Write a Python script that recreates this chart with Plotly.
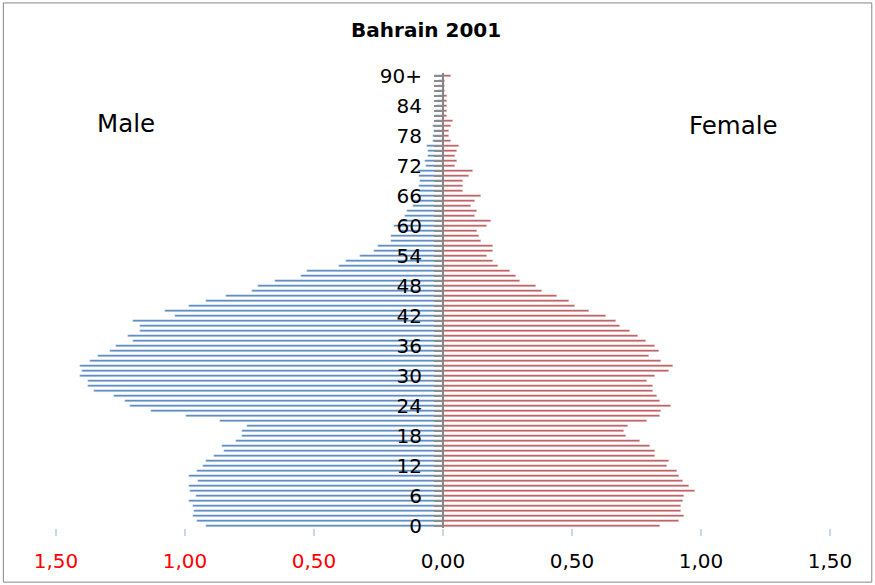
"""Pyramide des ages du Bahrein en 2001 (reproduction du graphique Excel)."""

import plotly.graph_objects as go

# ages 0..89 puis 90+
ages = list(range(91))
age_labels = [str(a) if a % 6 == 0 else "" for a in range(90)] + ["90+"]

# pourcentages
male = [0.918, 0.954, 0.970, 0.965, 0.968, 0.985, 0.957, 0.979, 0.985, 0.948,
        0.985, 0.954, 0.931, 0.918, 0.887, 0.850, 0.856, 0.804, 0.781, 0.781,
        0.758, 0.864, 0.995, 1.132, 1.215, 1.231, 1.277, 1.354, 1.377, 1.377,
        1.406, 1.398, 1.406, 1.367, 1.337, 1.289, 1.268, 1.200, 1.222, 1.176,
        1.176, 1.200, 1.040, 1.077, 0.985, 0.918, 0.842, 0.742, 0.718, 0.650,
        0.550, 0.528, 0.405, 0.375, 0.321, 0.269, 0.253, 0.200, 0.200, 0.168,
        0.191, 0.162, 0.147, 0.139, 0.117, 0.117, 0.098, 0.094, 0.094, 0.088,
        0.094, 0.098, 0.065, 0.068, 0.059, 0.057, 0.062, 0.040, 0.040, 0.036,
        0.040, 0.027, 0.027, 0.027, 0.022, 0.022, 0.020, 0.018, 0.018, 0.015,
        0.030]

female = [0.840, 0.914, 0.936, 0.921, 0.921, 0.930, 0.936, 0.975, 0.952, 0.930,
          0.914, 0.907, 0.869, 0.876, 0.823, 0.823, 0.801, 0.763, 0.708, 0.701,
          0.716, 0.792, 0.840, 0.846, 0.885, 0.840, 0.831, 0.815, 0.815, 0.792,
          0.823, 0.876, 0.891, 0.846, 0.800, 0.839, 0.823, 0.785, 0.754, 0.724,
          0.685, 0.670, 0.631, 0.564, 0.512, 0.488, 0.443, 0.382, 0.360, 0.298,
          0.283, 0.259, 0.214, 0.192, 0.169, 0.192, 0.192, 0.146, 0.138, 0.131,
          0.169, 0.185, 0.123, 0.131, 0.109, 0.123, 0.147, 0.078, 0.078, 0.078,
          0.101, 0.117, 0.047, 0.055, 0.047, 0.055, 0.062, 0.030, 0.022, 0.022,
          0.030, 0.037, 0.014, 0.014, 0.014, 0.014, 0.014, 0.007, 0.007, 0.007,
          0.030]

x_ticks = [-1.5, -1.0, -0.5, 0.0, 0.5, 1.0, 1.5]
x_labels = ["<span style='color:#FF0000'>1,50</span>",
            "<span style='color:#FF0000'>1,00</span>",
            "<span style='color:#FF0000'>0,50</span>",
            "0,00", "0,50", "1,00", "1,50"]

FONT = "DejaVu Sans"

fig = go.Figure()
fig.add_trace(go.Bar(y=ages, x=[-v for v in male], orientation="h",
                     marker_color="#4F81BD", width=0.4, name="Male"))
fig.add_trace(go.Bar(y=ages, x=female, orientation="h",
                     marker_color="#C0504D", width=0.4, name="Female"))

fig.update_layout(
    width=875, height=585,
    margin=dict(l=56, r=45, t=73, b=57),
    paper_bgcolor="white", plot_bgcolor="white",
    barmode="overlay", bargap=0, showlegend=False,
    font=dict(family=FONT, color="#000000"),
    title=dict(text="<b>Bahrain 2001</b>", x=0.487, xanchor="center",
               y=0.949, yanchor="middle", font=dict(size=20, family=FONT)),
    xaxis=dict(range=[-1.5, 1.5], tickvals=x_ticks, ticktext=x_labels,
               showgrid=False, zeroline=False, showline=False,
               ticks="outside", ticklen=7, tickcolor="#C9D7EA", tickwidth=2,
               ticklabelstandoff=8, tickfont=dict(size=20, family=FONT)),
    yaxis=dict(range=[-0.5, 90.5], tickvals=ages, ticktext=age_labels,
               anchor="free", position=0.5, side="left",
               showgrid=False, zeroline=False,
               showline=True, linecolor="#868686", linewidth=2,
               ticks="outside", ticklen=8, tickcolor="#8C8C8C", tickwidth=2,
               ticklabelstandoff=8, tickfont=dict(size=20, family=FONT)),
    annotations=[
        dict(text="Male", x=-1.227, y=80.5, xref="x", yref="y", showarrow=False,
             font=dict(size=24.5, family=FONT)),
        dict(text="Female", x=1.126, y=80.1, xref="x", yref="y", showarrow=False,
             font=dict(size=24.5, family=FONT)),
    ],
    shapes=[dict(type="rect", xref="paper", yref="paper",
                 x0=-0.068, x1=1.054, y0=-0.119, y1=1.154,
                 line=dict(color="#868686", width=1))],
)

# pas de marge autour de la figure dans la page
fig.write_html("out.html", config={"displayModeBar": False},
               post_script="document.body.style.margin='0';")
